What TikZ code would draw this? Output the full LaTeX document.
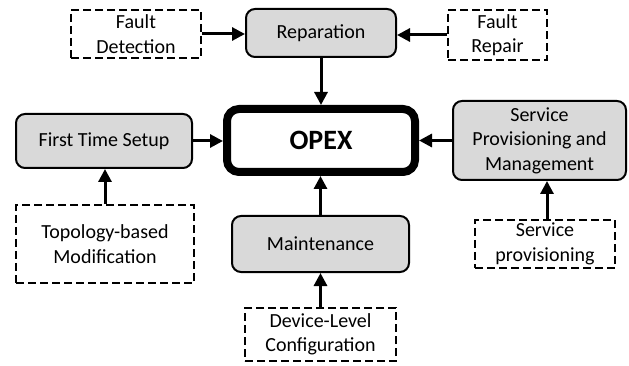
\documentclass[tikz,border=0pt]{standalone}
\usepackage{fontspec}
\setmainfont{Carlito}
\usetikzlibrary{arrows.meta}
\begin{document}
\begin{tikzpicture}[x=1pt,y=-1pt,
  every node/.style={font=\fontsize{20}{24.4}\selectfont, align=center, inner sep=0pt},
  task/.style={draw=black, line width=2pt, fill=black!15, rounded corners=9pt},
  source/.style={draw=black, line width=2.6pt, dash pattern=on 8pt off 4pt},
  core/.style={draw=black, line width=8pt, rounded corners=12pt, fill=white,
    font=\fontsize{28}{34}\selectfont\bfseries},
  link/.style={line width=3pt, -{Triangle[length=13pt,width=13pt]}}]
\useasboundingbox (0,0) rectangle (629,366);

% central cost node
\node[core, minimum width=188pt, minimum height=63pt] (opex) at (321,140.5) {OPEX};

% main operational tasks
\node[task, minimum width=150pt, minimum height=48pt] (rep) at (321,33) {Reparation};
\node[task, minimum width=176pt, minimum height=54pt] (fts) at (104,141) {First Time Setup};
\node[task, minimum width=173pt, minimum height=79pt] (spm) at (539.5,140.5) {Service\\Provisioning and\\Management};
\node[task, minimum width=177pt, minimum height=56pt] (mnt) at (320.5,244) {Maintenance};

% contributing activities
\node[source, minimum width=130pt, minimum height=48pt] (fd) at (136,34) {Fault\\Detection};
\node[source, minimum width=99pt, minimum height=50pt] (fr) at (497.5,35) {Fault\\Repair};
\node[source, minimum width=178pt, minimum height=78pt] (topo) at (105,244) {Topology-based\\Modification};
\node[source, minimum width=151pt, minimum height=53pt] (dev) at (320.5,334.5) {Device-Level\\Configuration};
\node[source, minimum width=140pt, minimum height=48pt] (sp) at (545,244) {Service\\provisioning};

% connectors
\draw[link] (fd.east) -- (fd.east -| rep.west);
\draw[link] (fr.west) -- (fr.west -| rep.east);
\draw[link] (rep.south) -- (rep.south |- opex.north);
\draw[link] (fts.east) -- (fts.east -| opex.west);
\draw[link] (spm.west) -- (spm.west -| opex.east);
\draw[link] (mnt.north) -- (mnt.north |- opex.south);
\draw[link] (topo.north) -- (topo.north |- fts.south);
\draw[link] (dev.north) -- (dev.north |- mnt.south);
\draw[link] ([xshift=2pt]sp.north) -- ([xshift=2pt]sp.north |- spm.south);
\end{tikzpicture}
\end{document}
